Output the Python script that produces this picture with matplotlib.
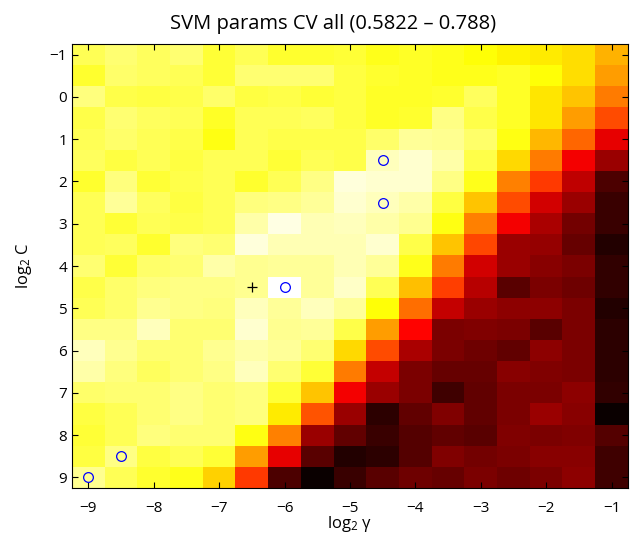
import numpy as np
import matplotlib
matplotlib.use('Agg')
import matplotlib.pyplot as plt

plt.rcParams['font.family'] = ['Open Sans', 'DejaVu Sans']
plt.rcParams['mathtext.fontset'] = 'custom'
plt.rcParams['mathtext.rm'] = 'Open Sans'
plt.rcParams['mathtext.it'] = 'Open Sans'

# grid of the parameter search
log2_gamma = np.arange(-9, -0.5, 0.5)
log2_C = np.arange(-1, 9.5, 0.5)

# CV accuracy, one row per log2 C, one column per log2 gamma
cv_acc = np.array([
    [.753, .759, .755, .759, .747, .753, .745, .745, .747, .741, .743, .741, .737, .732, .730, .726, .712],
    [.745, .757, .755, .753, .747, .759, .759, .759, .749, .745, .743, .741, .741, .743, .737, .726, .706],
    [.761, .751, .749, .751, .757, .749, .751, .747, .749, .743, .743, .745, .755, .743, .728, .718, .695],
    [.751, .759, .755, .753, .743, .753, .753, .755, .749, .743, .745, .763, .751, .743, .728, .706, .681],
    [.753, .757, .753, .751, .739, .753, .751, .751, .751, .757, .767, .765, .757, .739, .714, .689, .650],
    [.755, .749, .753, .749, .753, .753, .747, .753, .751, .774, .778, .770, .751, .724, .695, .654, .627],
    [.745, .761, .747, .751, .753, .745, .753, .763, .780, .778, .778, .763, .741, .697, .675, .638, .603],
    [.753, .767, .755, .749, .753, .761, .763, .767, .778, .774, .770, .749, .718, .681, .644, .627, .597],
    [.753, .747, .753, .751, .753, .770, .782, .772, .774, .770, .765, .739, .697, .654, .632, .615, .597],
    [.753, .755, .745, .761, .759, .780, .772, .772, .772, .778, .751, .718, .679, .627, .625, .611, .590],
    [.759, .747, .757, .759, .770, .765, .767, .767, .772, .767, .741, .695, .644, .627, .621, .617, .595],
    [.751, .757, .761, .763, .763, .765, .788, .767, .776, .753, .716, .677, .636, .607, .617, .613, .595],
    [.753, .757, .765, .763, .761, .774, .767, .774, .767, .737, .691, .640, .627, .623, .623, .617, .590],
    [.763, .763, .774, .759, .759, .778, .765, .767, .751, .706, .658, .617, .619, .617, .607, .617, .593],
    [.774, .765, .759, .759, .765, .770, .767, .759, .724, .681, .632, .617, .613, .609, .623, .617, .593],
    [.770, .761, .755, .759, .763, .774, .759, .747, .695, .640, .617, .611, .611, .621, .619, .617, .593],
    [.757, .759, .759, .763, .759, .761, .747, .718, .654, .627, .617, .599, .609, .617, .617, .623, .595],
    [.749, .753, .759, .763, .759, .761, .730, .683, .627, .593, .609, .619, .609, .617, .627, .621, .582],
    [.747, .753, .761, .759, .759, .739, .697, .627, .609, .597, .605, .609, .607, .619, .617, .619, .605],
    [.749, .763, .749, .753, .747, .706, .650, .607, .590, .593, .605, .619, .615, .617, .621, .621, .599],
    [.765, .753, .745, .741, .722, .675, .603, .582, .597, .607, .613, .611, .617, .613, .617, .623, .599],
])
acc_min, acc_max = 0.5822, 0.788

# best parameter pairs and their centre
best_gamma = [-4.5, -4.5, -6.0, -8.5, -9.0]
best_C = [1.5, 2.5, 4.5, 8.5, 9.0]
centre_gamma, centre_C = -6.5, 4.5

fig = plt.figure(figsize=(6.3, 5.35), dpi=100)
ax = fig.add_axes([72 / 630, 47 / 535, 556 / 630, 444 / 535])

dg = (log2_gamma[1] - log2_gamma[0]) / 2
dc = (log2_C[1] - log2_C[0]) / 2
ax.imshow(cv_acc, cmap='hot', vmin=acc_min, vmax=acc_max, aspect='auto',
          interpolation='nearest', origin='upper',
          extent=[log2_gamma[0] - dg, log2_gamma[-1] + dg,
                  log2_C[-1] + dc, log2_C[0] - dc])

ax.plot(best_gamma, best_C, 'o', mfc='none', mec='blue', ms=7, mew=0.9)
ax.plot(centre_gamma, centre_C, '+', color='black', ms=7, mew=0.9)

ax.set_xticks(np.arange(-9, 0))
ax.set_yticks(np.arange(-1, 10))
ax.tick_params(direction='in', top=True, right=True, length=4, labelsize=11)
ax.tick_params(axis='x', pad=9)
ax.set_xlabel(r'log$_2$ γ', fontsize=12, labelpad=-1)
ax.set_ylabel(r'log$_2$ C', fontsize=12, labelpad=11)
ax.set_title('SVM params CV all (%.4f – %.3f)' % (acc_min, acc_max),
             fontsize=14.5, pad=11, x=0.469)

fig.savefig('out.png', dpi=100)
